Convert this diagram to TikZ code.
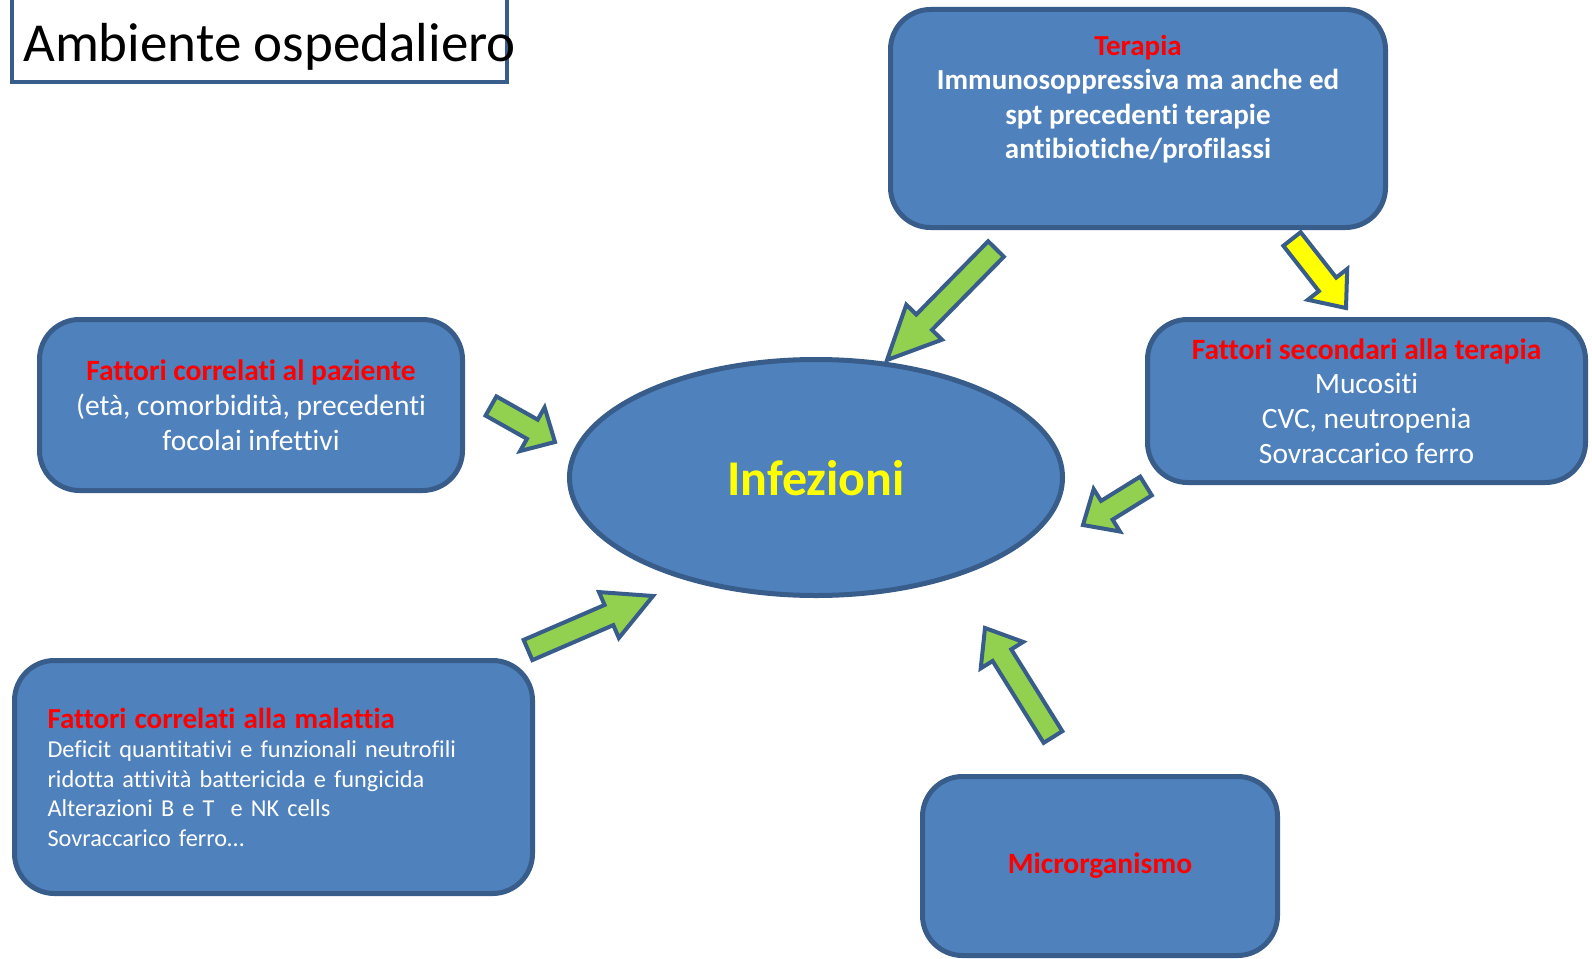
\documentclass[tikz,border=0pt]{standalone}
\usepackage{fontspec}
\setmainfont{Carlito}[Ligatures=NoCommon]
\usepackage{xcolor}
\usepackage{tikz}
\usetikzlibrary{shapes,arrows,positioning,calc}

\definecolor{boxfill}{HTML}{4F81BD}
\definecolor{boxline}{HTML}{385D8A}
\definecolor{greenfill}{HTML}{92D050}
\definecolor{yellowfill}{HTML}{FFFF00}
\definecolor{titlered}{HTML}{FF0000}

% block arrow: [fill] {tail} {tip} {head length}
\newcommand{\blockarrow}[4][greenfill]{%
  \coordinate (hb) at ($(#3)!#4!(#2)$);
  \draw[arrowline, fill=#1] ($(#2)!11pt!90:(#3)$) -- ($(hb)!11pt!90:(#3)$)
    -- ($(hb)!25pt!90:(#3)$) -- (#3) -- ($(hb)!25pt!-90:(#3)$)
    -- ($(hb)!11pt!-90:(#3)$) -- ($(#2)!11pt!-90:(#3)$) -- cycle;
}

\begin{document}
\begin{tikzpicture}[x=1pt, y=-1pt,
    box/.style={draw=boxline, line width=5pt, fill=boxfill, rounded corners=40pt,
      inner sep=0pt, text=white, align=center, font=\fontsize{29.5}{34.8}\selectfont},
    arrowline/.style={draw=boxline, line width=4pt, line join=miter},
    red/.style={text=titlered}]
    \clip (0,0) rectangle (1592,958);
    \fill[white] (0,0) rectangle (1592,958);

    % Title
    \draw[boxline, line width=4pt, fill=white] (12,-10) rectangle (507,82);
    \node[anchor=base west, inner sep=0pt, font=\fontsize{55}{66}\selectfont] (titolo) at (23,62) {Ambiente ospedaliero};

    % Central ellipse
    \node[ellipse, draw=boxline, line width=5pt, fill=boxfill, inner sep=0pt,
      minimum width=493pt, minimum height=236pt] (infezioni) at (816,477.5) {};
    \node[text=yellowfill, font=\fontsize{50}{60}\selectfont\bfseries] (infezionitxt) at (816,478) {Infezioni};

    % Boxes
    \node[box, minimum width=495pt, minimum height=218pt] (terapia) at (1138,118.5) {};
    \node[text=white, align=center, inner sep=0pt, font=\fontsize{29}{34.5}\selectfont\bfseries] (terapiatxt) at (1138,99)
      {\textcolor{titlered}{Terapia}\\Immunosoppressiva ma anche ed\\spt precedenti terapie\\antibiotiche/profilassi};

    \node[box, minimum width=423pt, minimum height=171pt] (paziente) at (251,405)
      {\textcolor{titlered}{\bfseries Fattori correlati al paziente}\\(età, comorbidità, precedenti\\focolai infettivi};

    \node[box, minimum width=438pt, minimum height=163pt] (secondari) at (1366.5,401)
      {\textcolor{titlered}{\bfseries Fattori secondari alla terapia}\\Mucositi\\CVC, neutropenia\\Sovraccarico ferro};

    \node[box, align=left, text width=452pt, minimum height=233pt, inner xsep=33pt,
      font=\fontsize{24.3}{29.5}\selectfont] (malattia) at (273.5,777)
      {\textcolor{titlered}{\fontsize{29}{29.5}\selectfont\bfseries Fattori correlati alla malattia}\\
       Deficit quantitativi e funzionali neutrofili\\
       ridotta attività battericida e fungicida\\
       Alterazioni B e T\ \ e NK cells\\
       Sovraccarico ferro…};

    \node[box, minimum width=355pt, minimum height=179pt] (microrg) at (1100,866)
      {\textcolor{titlered}{\bfseries Microrganismo}};

    % Arrows
    \coordinate (a1s) at (996,249);  \coordinate (a1e) at (887,360);
    \coordinate (a2s) at (1292,239); \coordinate (a2e) at (1346,308);
    \coordinate (a3s) at (491,406);  \coordinate (a3e) at (555,442);
    \coordinate (a4s) at (528,650);  \coordinate (a4e) at (653,596);
    \coordinate (a5s) at (1146,486); \coordinate (a5e) at (1083,525);
    \coordinate (a6s) at (1053,737); \coordinate (a6e) at (985,628);
    \blockarrow{a1s}{a1e}{53pt}
    \blockarrow[yellowfill]{a2s}{a2e}{30pt}
    \blockarrow{a3s}{a3e}{26pt}
    \blockarrow{a4s}{a4e}{48pt}
    \blockarrow{a5s}{a5e}{28pt}
    \blockarrow{a6s}{a6e}{32pt}
\end{tikzpicture}
\end{document}
